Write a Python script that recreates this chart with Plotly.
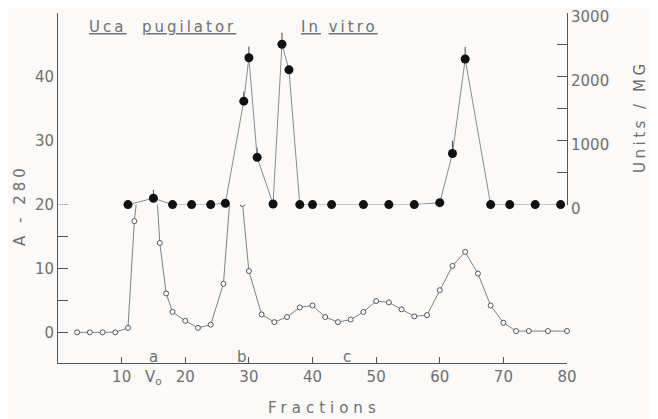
import plotly.graph_objects as go

# A-280 (open circles)
a280_x = [3, 5, 7, 9, 11, 12, 14, 15, 16, 17, 18, 20, 22, 24, 26, 27, 28, 29, 30,
          32, 34, 36, 38, 40, 42, 44, 46, 48, 50, 52, 54, 56, 58, 60, 62, 64, 66,
          68, 70, 72, 74, 77, 80]
a280_y = [0, 0, 0, 0, 0.7, 17.4, 35.9, 30.3, 14.0, 6.1, 3.2, 1.8, 0.7, 1.2, 7.6,
          20.6, 26.6, 20.1, 9.6, 2.8, 1.6, 2.4, 3.9, 4.2, 2.4, 1.6, 2.0, 3.2, 4.9,
          4.7, 3.6, 2.5, 2.7, 6.6, 10.4, 12.6, 9.2, 4.2, 1.5, 0.2, 0.2, 0.2, 0.2]

# Units / MG (filled circles)
units_x = [11, 15, 18, 21, 24, 26.3, 29.2, 30, 31.3, 33.8, 35.2, 36.3, 38, 40, 43,
           48, 52, 56, 60, 62, 64, 68, 71, 75, 79]
units_y = [0, 100, 0, 0, 0, 20, 1620, 2300, 740, 10, 2510, 2110, 0, 0, 0,
           0, 0, 0, 30, 800, 2280, 0, 0, 0, 0]
units_err = [0, 130, 0, 0, 0, 0, 150, 175, 150, 0, 180, 0, 0, 0, 0,
             0, 0, 0, 0, 200, 190, 0, 0, 0, 0]

x_ticks = [10, 20, 30, 40, 50, 60, 70, 80]
left_ticks = [0, 10, 20, 30, 40]
right_ticks = [0, 1000, 2000, 3000]

GREY = "#6f6f6f"
LINE = "#555555"
FONT = "DejaVu Sans"
BG = "#fcfaf8"
left_min, left_max = -4.8, 50
y2_bottom = (20 - left_min) / (left_max - left_min)

fig = go.Figure()
fig.add_trace(go.Scatter(
    x=a280_x, y=a280_y, mode="lines+markers",
    line=dict(color="#808080", width=1),
    marker=dict(symbol="circle", size=5, color="white",
                line=dict(color="#555555", width=1)),
    cliponaxis=False, showlegend=False, xaxis="x", yaxis="y"))
fig.add_trace(go.Scatter(
    x=units_x, y=units_y, mode="lines+markers",
    line=dict(color="#8a8a8a", width=1),
    marker=dict(symbol="circle", size=9, color="#111111"),
    error_y=dict(type="data", symmetric=False, array=units_err,
                 arrayminus=[0] * len(units_err), width=0,
                 color="#444444", thickness=1),
    cliponaxis=False, showlegend=False, xaxis="x", yaxis="y2"))

# page body has an 8px default margin: figure is 650x411 placed at (8,8)
# plot area in window pixels: x 58..567, y 13..363
fig.update_layout(
    width=650, height=411,
    margin=dict(l=50, r=91, t=5, b=56, autoexpand=False),
    paper_bgcolor=BG, plot_bgcolor=BG,
    font=dict(family=FONT, size=15, color=GREY),
    xaxis=dict(range=[0, 80], tickvals=x_ticks, ticks="inside", ticklen=6,
               tickcolor=LINE, showline=True, linecolor=LINE, linewidth=1,
               showgrid=False, zeroline=False, anchor="y", automargin=False,
               tickfont=dict(size=15, color=GREY)),
    yaxis=dict(range=[left_min, left_max], tickvals=left_ticks,
               ticks="inside", ticklen=10, automargin=False,
               minor=dict(tick0=0, dtick=5, ticks="inside", ticklen=10,
                          tickcolor=LINE, showgrid=False),
               tickcolor=LINE, showline=True, linecolor=LINE, linewidth=1,
               showgrid=False, zeroline=False, anchor="x",
               tickfont=dict(size=15, color=GREY)),
    yaxis2=dict(range=[0, 3000], domain=[y2_bottom, 1], tickvals=right_ticks,
                ticks="inside", ticklen=10, automargin=False,
                minor=dict(tick0=0, dtick=500, ticks="inside", ticklen=10,
                           tickcolor=LINE, showgrid=False),
                tickcolor=LINE, showline=True, linecolor=LINE, linewidth=1,
                showgrid=False, zeroline=False, anchor="x", side="right",
                ticklabeloverflow="allow", ticklabelshift=4,
                tickfont=dict(size=15, color=GREY)),
)


def px(x):
    return (x - 58) / 509


def py(y):
    return 1 - (y - 13) / 350


ann = [
    dict(text='<span style="letter-spacing:4px">A - 280</span>', x=20, y=205,
         textangle=-90),
    dict(text='<span style="letter-spacing:3.5px">Units / MG</span>', x=640, y=117,
         textangle=-90),
    dict(text='<span style="letter-spacing:5px">Fractions</span>', x=324, y=408),
    dict(text='<span style="letter-spacing:3px"><u>Uca</u>  <u>pugilator</u></span>',
         x=162, y=27),
    dict(text='<span style="letter-spacing:3px"><u>In</u> <u>vitro</u></span>',
         x=339, y=27),
]
for a in ann:
    fig.add_annotation(xref="paper", yref="paper", showarrow=False,
                       xanchor="center", yanchor="middle",
                       font=dict(family=FONT, size=15, color=GREY),
                       x=px(a["x"]), y=py(a["y"]),
                       text=a["text"], textangle=a.get("textangle", 0))

# marker labels under the x axis
for lab, fx, yy in [("a", 15, 357), ("V<sub>o</sub>", 15, 377),
                    ("b", 28.9, 357), ("c", 45.5, 357)]:
    fig.add_annotation(xref="x", yref="paper", x=fx, y=py(yy),
                       text=lab, showarrow=False, xanchor="center",
                       yanchor="middle",
                       font=dict(family=FONT, size=15, color=GREY))

fig.write_html("out.html")
